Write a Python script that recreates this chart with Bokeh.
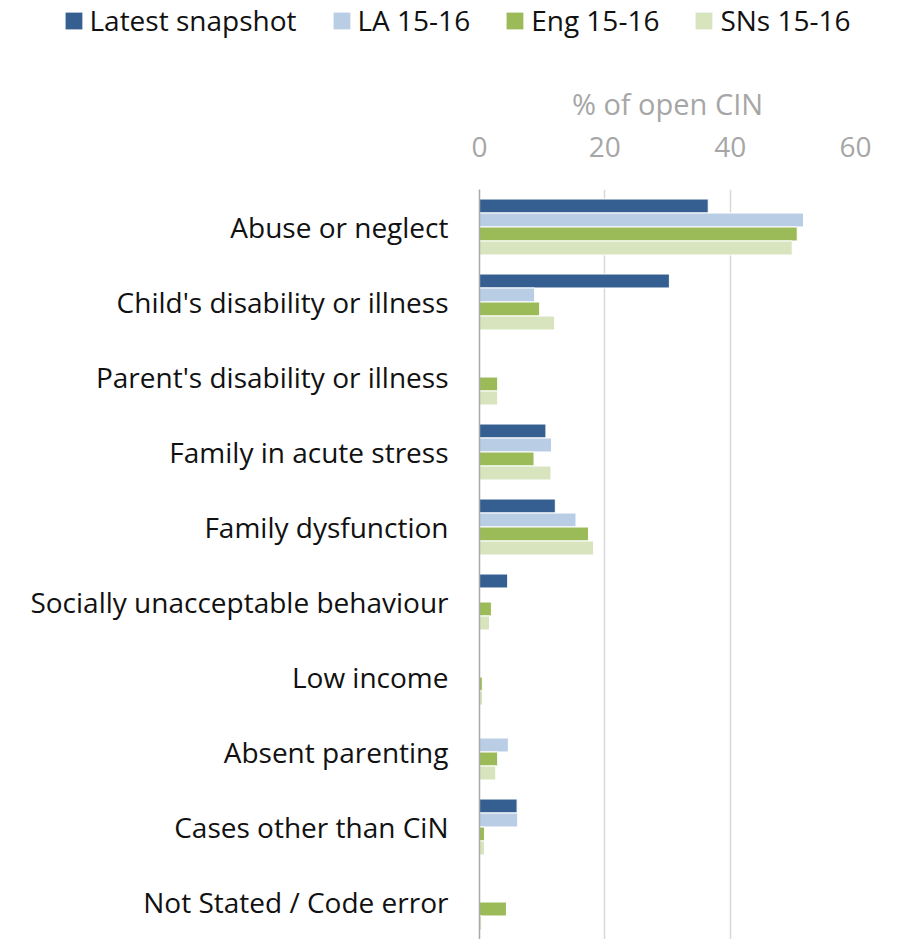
import numpy as np
from bokeh.plotting import figure
from bokeh.layouts import column
from bokeh.models import Range1d, FixedTicker, Legend, LegendItem
from bokeh.embed import file_html
from bokeh.resources import INLINE

categories = ["Abuse or neglect", "Child's disability or illness",
              "Parent's disability or illness", "Family in acute stress",
              "Family dysfunction", "Socially unacceptable behaviour",
              "Low income", "Absent parenting", "Cases other than CiN",
              "Not Stated / Code error"]
latest = [36.5, 30.3, 0, 10.6, 12.1, 4.5, 0, 0, 6.0, 0]
la_1516 = [51.7, 8.8, 0, 11.5, 15.4, 0, 0, 4.6, 6.1, 0]
eng_1516 = [50.7, 9.6, 2.9, 8.7, 17.4, 1.9, 0.45, 2.9, 0.8, 4.3]
sns_1516 = [49.9, 12.0, 2.9, 11.4, 18.2, 1.6, 0.5, 2.6, 0.8, 0.35]
series_names = ["Latest snapshot", "LA 15-16", "Eng 15-16", "SNs 15-16"]
x_ticks = [0, 20, 40, 60]
x_title = "% of open CIN"

colors = ["#355f91", "#b9cde5", "#9bbb59", "#d7e4bd"]
FONT = "Open Sans"
W = 913
LEG_H = 40
MAIN_H = 939 - LEG_H

n = len(categories)
all_series = [latest, la_1516, eng_1516, sns_1516]
step = 0.1867
bar_h = 0.186
idx = np.arange(n)

# ---------------- main chart ----------------
p = figure(width=W, height=MAIN_H, output_backend="svg", toolbar_location=None,
           title=None, x_axis_location="above",
           x_range=Range1d(0, 60), y_range=Range1d(n - 0.5, -0.5),
           min_border_left=479, min_border_right=58, min_border_bottom=0,
           min_border_top=189 - LEG_H)
p.frame_align = False

for k, (vals, c) in enumerate(zip(all_series, colors)):
    off = (k - 1.5) * step
    p.hbar(y=idx + off, left=0, right=vals, height=bar_h,
           fill_color=c, line_color="white", line_width=1)

xa = p.xaxis[0]
xa.ticker = FixedTicker(ticks=x_ticks)
xa.axis_label = x_title
xa.axis_label_text_font = FONT
xa.axis_label_text_font_size = "29px"
xa.axis_label_text_font_style = "normal"
xa.axis_label_text_color = "#a6a6a6"
xa.axis_label_standoff = 11
xa.major_label_text_font = FONT
xa.major_label_text_font_size = "28px"
xa.major_label_text_color = "#a6a6a6"
xa.major_label_standoff = 27
xa.axis_line_color = None
xa.major_tick_line_color = None
xa.minor_tick_line_color = None

ya = p.yaxis[0]
ya.ticker = FixedTicker(ticks=list(range(n)))
ya.major_label_overrides = {i: c for i, c in enumerate(categories)}
ya.major_label_text_font = FONT
ya.major_label_text_font_size = "28px"
ya.major_label_text_color = "#111111"
ya.major_label_standoff = 25
ya.axis_line_color = "#a9a9a9"
ya.axis_line_width = 1.5
ya.major_tick_line_color = None
ya.minor_tick_line_color = None

p.xgrid.ticker = FixedTicker(ticks=x_ticks)
p.xgrid.grid_line_color = "#d9d9d9"
p.xgrid.grid_line_width = 1.5
p.ygrid.visible = False
p.outline_line_color = None

# ---------------- legend strip ----------------
pl = figure(width=W, height=LEG_H, output_backend="svg", toolbar_location=None,
            title=None, x_axis_location=None, y_axis_location=None,
            x_range=Range1d(0, 60), y_range=Range1d(n - 0.5, -0.5),
            min_border_left=0, min_border_right=0, min_border_top=0,
            min_border_bottom=0)
pl.frame_align = False
pl.xgrid.visible = False
pl.ygrid.visible = False
pl.outline_line_color = None
leg_renderers = []
for k, (vals, c) in enumerate(zip(all_series, colors)):
    off = (k - 1.5) * step
    r = pl.hbar(y=idx + off, left=0, right=vals, height=bar_h,
                fill_color=c, line_color=None, visible=False)
    leg_renderers.append(r)
legend = Legend(items=[LegendItem(label=nm, renderers=[r])
                       for nm, r in zip(series_names, leg_renderers)],
                orientation="horizontal", location="center",
                label_text_font=FONT, label_text_font_size="28px",
                label_text_color="#111111",
                glyph_width=21, glyph_height=21, label_standoff=6, spacing=34,
                padding=0, margin=0, border_line_color=None,
                background_fill_alpha=0, inactive_fill_alpha=0)
pl.add_layout(legend)

layout = column(pl, p, spacing=0)
open("out.html", "w").write(file_html(layout, INLINE))
